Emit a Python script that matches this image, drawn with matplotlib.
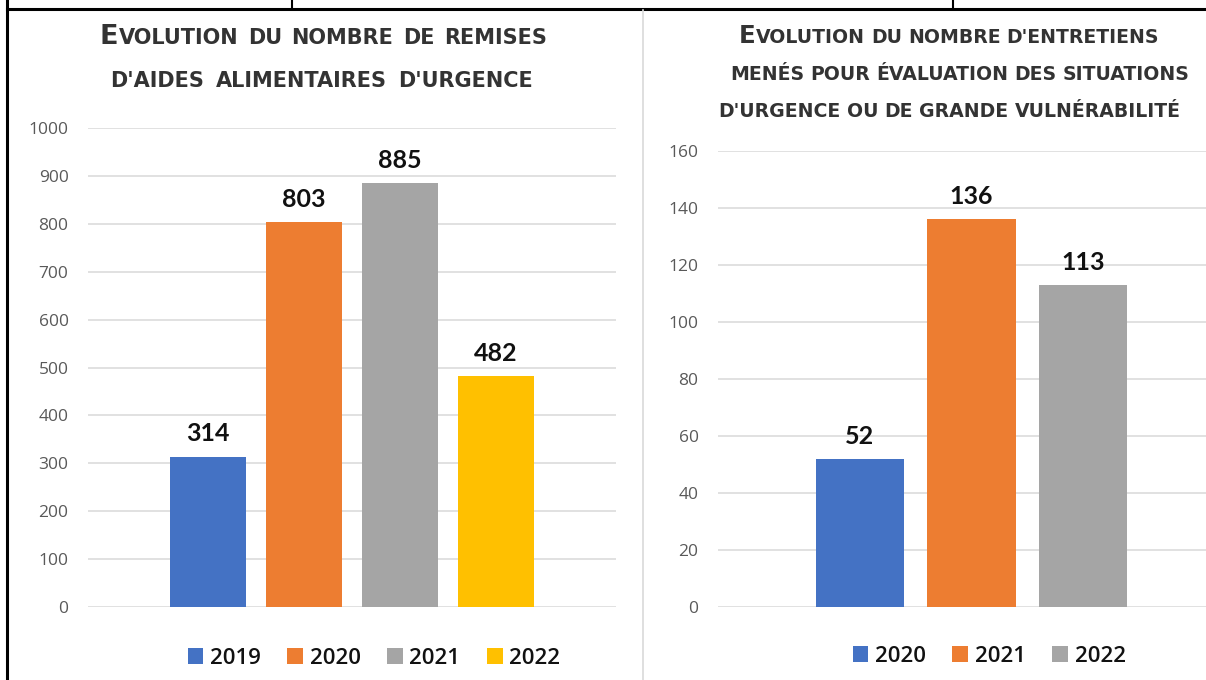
import matplotlib
matplotlib.use('Agg')
import matplotlib.pyplot as plt
from matplotlib.lines import Line2D
from matplotlib.patches import Patch

plt.rcParams['font.family'] = ['Lato', 'DejaVu Sans']

# left chart data
years_left = ['2019', '2020', '2021', '2022']
remises = [314, 803, 885, 482]
colors_left = ['#4472C4', '#ED7D31', '#A5A5A5', '#FFC000']
title_left = ['EVOLUTION DU NOMBRE DE REMISES', "D'AIDES ALIMENTAIRES D'URGENCE"]

# right chart data
years_right = ['2020', '2021', '2022']
entretiens = [52, 136, 113]
colors_right = ['#4472C4', '#ED7D31', '#A5A5A5']
title_right = ["EVOLUTION DU NOMBRE D'ENTRETIENS",
               'MENÉS POUR ÉVALUATION DES SITUATIONS',
               "D'URGENCE OU DE GRANDE VULNÉRABILITÉ"]

W, H = 1206, 680
fig = plt.figure(figsize=(W / 100, H / 100), dpi=100)


def px_box(x0, y_top, x1, y_bot):
    # pixel box (origin top-left) -> figure fraction
    return [x0 / W, 1 - y_bot / H, (x1 - x0) / W, (y_bot - y_top) / H]


def draw_bars(ax, values, colors, ymax, step, xlim, width):
    x = range(len(values))
    ax.bar(x, values, width=width, color=colors, zorder=3)
    for xi, v in zip(x, values):
        ax.annotate(str(v), (xi, v), xytext=(0, 8), textcoords='offset points',
                    ha='center', va='bottom', fontsize=18, fontweight='bold',
                    color='#111111')
    ax.set_ylim(0, ymax)
    ax.set_xlim(*xlim)
    ax.set_yticks(range(0, ymax + 1, step))
    ax.yaxis.grid(True, color='#d9d9d9', linewidth=1.1, zorder=0)
    ax.set_xticks([])
    for s in ax.spines.values():
        s.set_visible(False)
    ax.tick_params(axis='y', length=0, pad=14, labelsize=12.5, labelcolor='#595959')
    for lab in ax.get_yticklabels():
        lab.set_family('Open Sans')
    ax.set_facecolor('none')


axl = fig.add_axes(px_box(88, 128, 616, 607))
draw_bars(axl, remises, colors_left, 1000, 100, (-1.25, 4.25), 0.79)

axr = fig.add_axes(px_box(718, 151, 1206, 607))
draw_bars(axr, entretiens, colors_right, 160, 20, (-1.27, 3.10), 0.79)

# legends
for labels, cols, cx, cy in [(years_left, colors_left, 374, 658),
                             (years_right, colors_right, 989, 656)]:
    handles = [Patch(facecolor=c, edgecolor='none') for c in cols]
    fig.legend(handles, labels, loc='center', bbox_to_anchor=(cx / W, 1 - cy / H),
               ncol=len(labels), frameon=False, handlelength=0.7, handleheight=0.7,
               handletextpad=0.3, columnspacing=1.2,
               prop={'family': 'Open Sans', 'size': 16, 'weight': 'semibold'},
               labelcolor='#111111')

# small-caps titles: first letter bigger, words spread over the line span
renderer = fig.canvas.get_renderer()
TFONT = 'DejaVu Sans'


def title_line(line, x0, x1, base, size, big_first):
    words = line.split(' ')
    placed = []
    for i, w in enumerate(words):
        parts = [(w[0], size * 1.3), (w[1:], size)] if (i == 0 and big_first) else [(w, size)]
        ws = []
        for s, sz in parts:
            t = fig.text(0, 0, s, fontsize=sz, fontweight='bold', family=TFONT,
                         color='#333333', ha='left', va='baseline')
            ws.append((t, t.get_window_extent(renderer).width))
        placed.append(ws)
    total = sum(w for ws in placed for _, w in ws)
    space = size * 0.45
    need = total + space * (len(placed) - 1)
    if need > x1 - x0:
        mid = (x0 + x1) / 2
        x0, x1 = mid - need / 2, mid + need / 2
    gap = (x1 - x0 - total) / max(len(placed) - 1, 1)
    x = x0
    for ws in placed:
        for t, w in ws:
            t.set_position((x / W, 1 - base / H))
            x += w
        x += gap


for i, (line, span, base) in enumerate(zip(title_left, [(100, 547), (110, 533)], [44, 87])):
    title_line(line, span[0], span[1], base, 15.0, i == 0)
for i, (line, span, base) in enumerate(zip(title_right,
                                           [(746, 1152), (750, 1170), (726, 1173)],
                                           [43, 80, 117])):
    title_line(line, span[0], span[1], base, 13.6, i == 0)

# table borders
fig.add_artist(Line2D([7 / W, 7 / W], [0, 1], color='black', lw=2.2))
fig.add_artist(Line2D([7 / W, 1], [1 - 9 / H, 1 - 9 / H], color='black', lw=2.2))
for xv in (292, 953):
    fig.add_artist(Line2D([xv / W, xv / W], [1 - 9 / H, 1], color='black', lw=1.5))
fig.add_artist(Line2D([643 / W, 643 / W], [0, 1 - 10 / H], color='#d9d9d9', lw=1.2))

fig.savefig('out.png', dpi=100)
